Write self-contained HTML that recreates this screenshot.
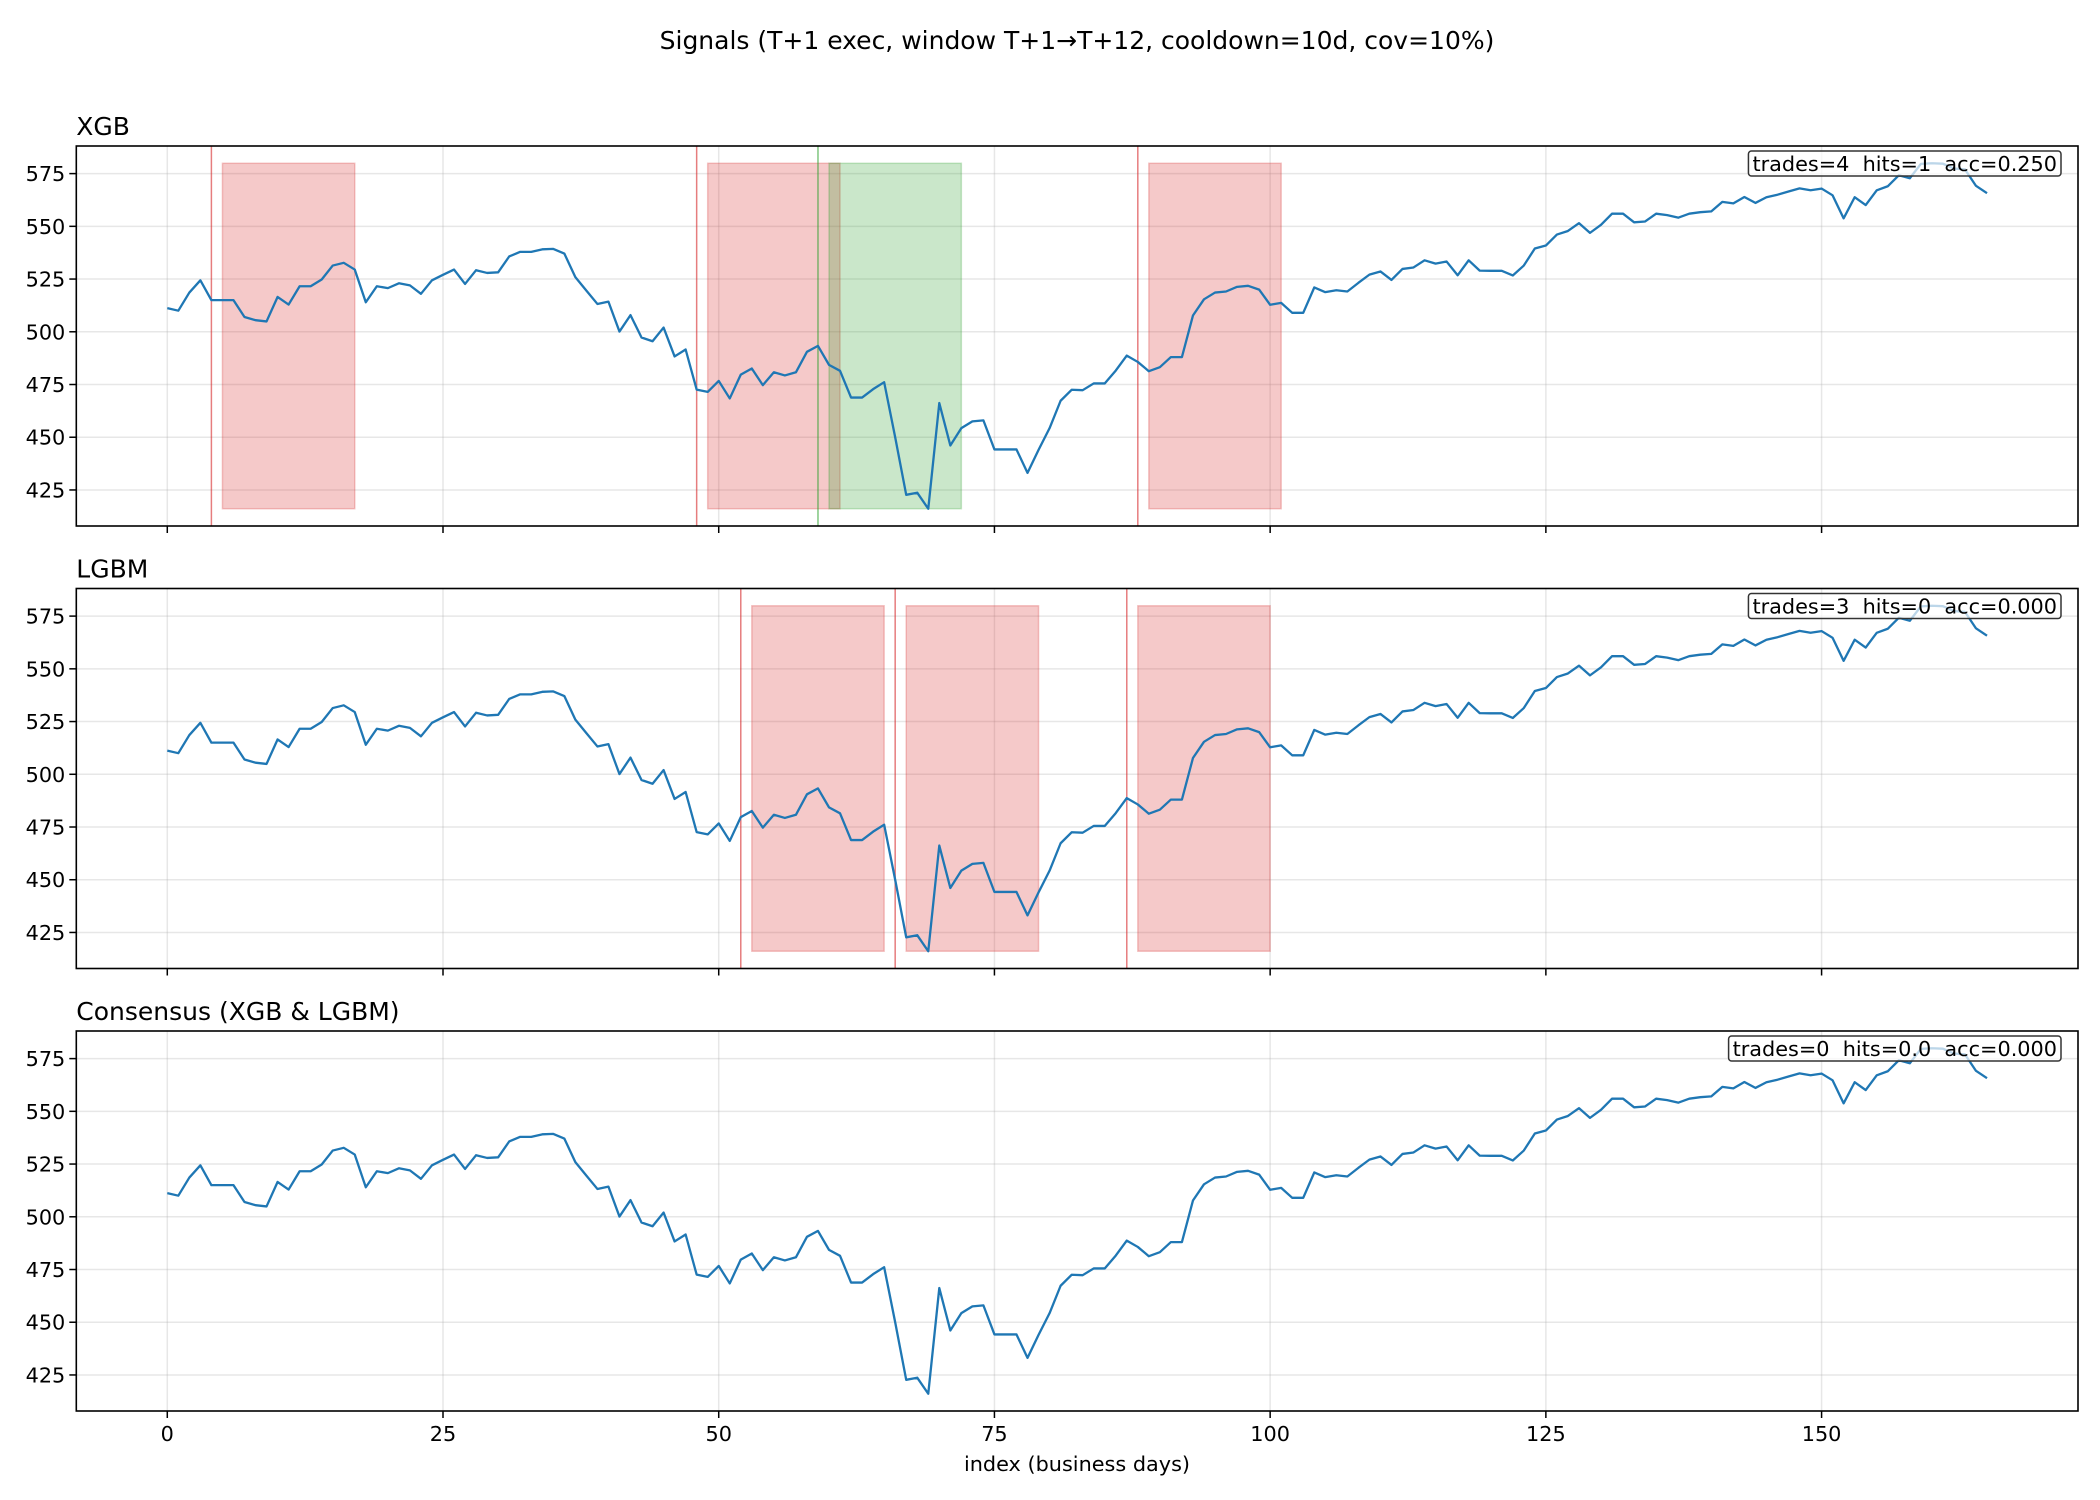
<!DOCTYPE html>
<html><head><meta charset="utf-8"><title>Signals</title>
<style>html,body{margin:0;padding:0;background:#fff;}svg{display:block;font-family:"DejaVu Sans","Liberation Sans",sans-serif;}</style>
</head><body>
<svg id="fig" width="2100" height="1500" viewBox="0 0 2100 1500" xmlns="http://www.w3.org/2000/svg">
<rect width="2100" height="1500" fill="#fff"/>
<text x="1077" y="49" font-size="25" text-anchor="middle">Signals (T+1 exec, window T+1→T+12, cooldown=10d, cov=10%)</text>
<text x="1077" y="1471" font-size="20.8" text-anchor="middle">index (business days)</text>
</svg>
<script>
const prices = [511.2,510,518.6,524.4,515,515,515,507,505.5,504.9,516.5,512.9,521.6,521.6,524.8,531.4,532.7,529.5,514,521.6,520.7,523,522,518,524.4,527,529.5,522.7,529.2,527.9,528.2,535.7,537.9,537.9,539.1,539.3,537.1,525.9,519.5,513.2,514.3,500.1,507.9,497.3,495.5,502,488.3,491.6,472.6,471.5,476.7,468.4,479.7,482.6,474.7,480.8,479.3,480.8,490.5,493.3,484.3,481.5,468.8,468.8,472.8,476.1,450,422.7,423.7,416.1,466.2,446.1,454.3,457.5,458,444.2,444.2,444.2,433.1,444,454.3,467.3,472.5,472.3,475.5,475.5,481.6,488.7,485.7,481.3,483.2,488,488,507.7,515.4,518.6,519.1,521.3,521.8,520,512.8,513.7,509,509,521,518.8,519.7,519.1,523.2,527.1,528.6,524.6,529.8,530.5,533.9,532.3,533.3,526.8,533.9,529,528.9,528.9,526.7,531.4,539.5,540.9,546.1,547.8,551.5,546.9,550.7,556,556,551.9,552.3,556,555.3,554.1,556,556.7,557.1,561.6,560.9,563.9,561.1,563.8,565,566.5,568,567.1,567.9,564.7,553.8,563.8,560.1,567.1,569,574.2,572.8,579.6,579.9,579.7,577.4,577,569.2,565.7];
const panelTitles = ["XGB","LGBM","Consensus (XGB & LGBM)"];
const statLabels = ["trades=4  hits=1  acc=0.250","trades=3  hits=0  acc=0.000","trades=0  hits=0.0  acc=0.000"];
const xgbMissEntries = [4,48,88];
const xgbHitEntries = [59];
const lgbmMissEntries = [52,66,87];
const consMissEntries = [];
const windowLen = 12;
const xTicks = [0,25,50,75,100,125,150];
const yTicks = [425,450,475,500,525,550,575];

const NS="http://www.w3.org/2000/svg";
const svg=document.getElementById('fig');
const L=76.3,R=2078,H=380;
const tops=[146,588.5,1031];
const n=prices.length;
const xMin=-(n-1)*0.05,xMax=(n-1)*1.05;
const pMin=Math.min(...prices),pMax=Math.max(...prices);
const yMin=pMin-(pMax-pMin)*0.05,yMax=pMax+(pMax-pMin)*0.05;
const xs=v=>L+(v-xMin)/(xMax-xMin)*(R-L);
function mk(tag,attrs,parent){const e=document.createElementNS(NS,tag);for(const k in attrs)e.setAttribute(k,attrs[k]);(parent||svg).appendChild(e);return e;}

const entriesPerPanel=[[xgbMissEntries,xgbHitEntries],[lgbmMissEntries,[]],[consMissEntries,[]]];
for(let p=0;p<3;p++){
  const T=tops[p];
  const ys=v=>T+(yMax-v)/(yMax-yMin)*H;
  const g=mk('g',{});
  
  
  xTicks.forEach(t=>{const l=mk('line',{x1:xs(t),x2:xs(t),y1:T,y2:T+H,stroke:'#b0b0b0','stroke-opacity':0.3,'stroke-width':1.5},g);
    });
  yTicks.forEach(t=>{const l=mk('line',{x1:L,x2:R,y1:ys(t),y2:ys(t),stroke:'#b0b0b0','stroke-opacity':0.3,'stroke-width':1.5},g);
    });
  const [miss,hit]=entriesPerPanel[p];
  const drawEntry=(e,col,kind)=>{
    const r=mk('rect',{x:xs(e+1),y:ys(pMax),width:xs(e+1+windowLen)-xs(e+1),height:ys(pMin)-ys(pMax),fill:col,'fill-opacity':0.25,stroke:col,'stroke-opacity':0.25,'stroke-width':1.5},g);
    
    const v=mk('line',{x1:xs(e),x2:xs(e),y1:T,y2:T+H,stroke:col,'stroke-opacity':0.6,'stroke-width':1.5},g);
    
  };
  miss.forEach(e=>drawEntry(e,'#d62728','miss'));
  hit.forEach(e=>drawEntry(e,'#2ca02c','hit'));
  const d=prices.map((v,i)=>(i?'L':'M')+xs(i).toFixed(2)+','+ys(v).toFixed(2)).join('');
  const pl=mk('path',{d:d,fill:'none',stroke:'#1f77b4','stroke-width':2.3,'stroke-linejoin':'round'},g);
  
  const fr=mk('rect',{x:L,y:T,width:R-L,height:H,fill:'none',stroke:'#000','stroke-width':1.6},g);
  
  xTicks.forEach(t=>{const tk=mk('line',{x1:xs(t),x2:xs(t),y1:T+H,y2:T+H+7,stroke:'#000','stroke-width':1.5},g);
    
    if(p===2){const tl=mk('text',{x:xs(t),y:T+H+30,'font-size':20.8,'text-anchor':'middle'},g);tl.textContent=t;
      }});
  yTicks.forEach(t=>{const tk=mk('line',{x1:L-7,x2:L,y1:ys(t),y2:ys(t),stroke:'#000','stroke-width':1.5},g);
    
    const tl=mk('text',{x:L-11,y:ys(t)+7.5,'font-size':20.8,'text-anchor':'end'},g);tl.textContent=t;
    });
  const tt=mk('text',{x:L,y:T-11,'font-size':25,'text-anchor':'start'},g);tt.textContent=panelTitles[p];
  
  const bx=mk('rect',{x:1748,y:T+5,width:313,height:25,rx:3,fill:'#fff','fill-opacity':0.7,stroke:'#333','stroke-width':1.5},g);
  
  const st=mk('text',{x:2057,y:T+25,'font-size':20.8,'text-anchor':'end','xml:space':'preserve',style:'white-space:pre'},g);st.textContent=statLabels[p];
  
  const bb=st.getBBox();
  bx.setAttribute('x',bb.x-4);bx.setAttribute('width',bb.width+8);
}
</script>
</body></html>
